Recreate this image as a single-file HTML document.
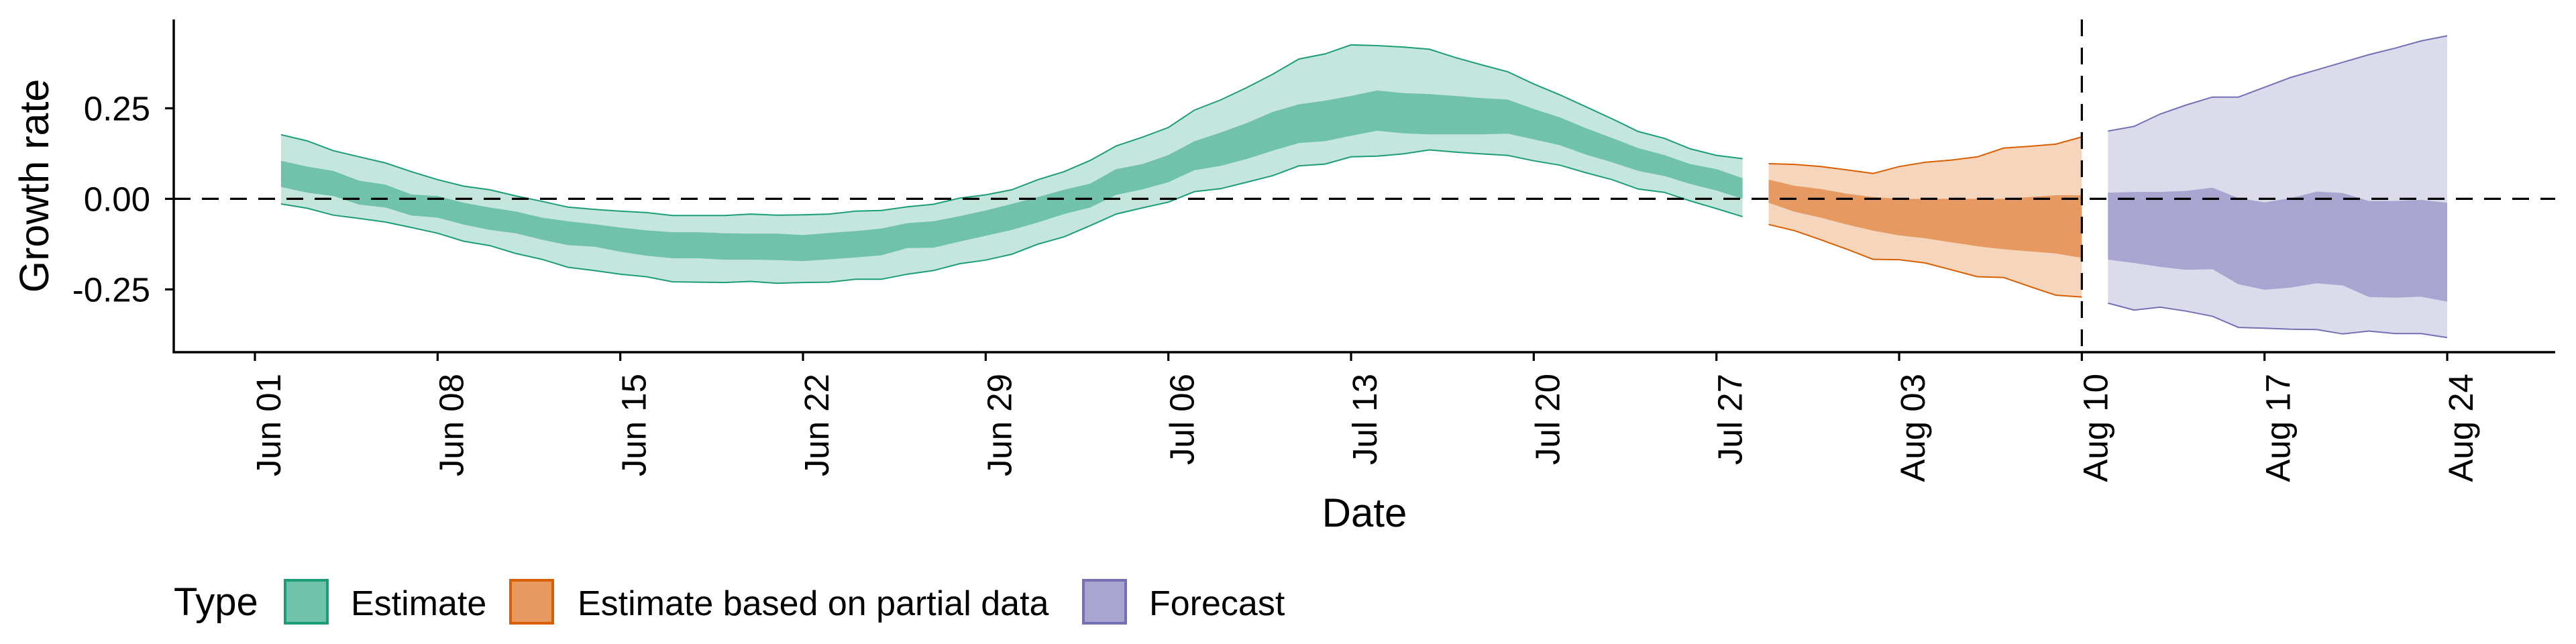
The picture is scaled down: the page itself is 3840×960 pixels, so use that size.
<!DOCTYPE html>
<html><head><meta charset="utf-8"><style>
html,body{margin:0;padding:0;background:#fff;}
svg{display:block;font-family:"Liberation Sans",Arial,sans-serif;}
</style></head><body>
<svg id="chart" width="3840" height="960" viewBox="0 0 3840 960" xmlns="http://www.w3.org/2000/svg">
<g id="plot"></g>
<text x="0" y="0" transform="translate(72,277) rotate(-90)" text-anchor="middle" font-size="61">Growth rate</text>
<text x="2034" y="785" text-anchor="middle" font-size="60">Date</text>
<g>
<text x="259" y="917" font-size="58">Type</text>
<g>
<rect x="425" y="865" width="63" height="64" fill="#70c2aa" stroke="#1b9e77" stroke-width="4"/>
<text x="523" y="917" font-size="52">Estimate</text></g>
<g>
<rect x="761" y="865" width="63" height="64" fill="#e69a62" stroke="#d95f02" stroke-width="4"/>
<text x="861" y="917" font-size="52">Estimate based on partial data</text></g>
<g>
<rect x="1615" y="865" width="63" height="64" fill="#a8a5d0" stroke="#7570b3" stroke-width="4"/>
<text x="1713" y="917" font-size="52">Forecast</text></g>
</g>
</svg>
<script>
// day index from Jun 01
const estStart = 1, partStart = 58, fcStart = 71;
const estOuterUpper = [0.177,0.160,0.133,0.116,0.099,0.075,0.053,0.035,0.025,0.008,-0.007,-0.023,-0.029,-0.034,-0.038,-0.046,-0.046,-0.046,-0.042,-0.045,-0.044,-0.042,-0.034,
 -0.032,-0.022,-0.015,0.002,0.011,0.025,0.053,0.075,0.106,0.146,0.170,0.197,0.245,0.273,0.307,0.344,0.386,0.400,0.425,0.423,0.419,0.413,0.390,0.370,0.351,0.317,0.287,0.254,0.221,0.186,0.167,0.138,0.120,0.111];
const estInnerUpper = [0.105,0.089,0.077,0.050,0.039,0.012,0.008,-0.011,-0.024,-0.035,-0.052,-0.062,-0.070,-0.079,-0.087,-0.092,-0.092,-0.095,-0.096,-0.096,-0.100,-0.094,-0.089,
 -0.082,-0.067,-0.062,-0.048,-0.032,-0.014,0.005,0.025,0.042,0.082,0.096,0.121,0.159,0.183,0.209,0.240,0.261,0.271,0.284,0.299,0.292,0.289,0.284,0.278,0.274,0.248,0.225,0.195,0.168,0.140,0.121,0.096,0.082,0.057];
const estInnerLower = [0.033,0.017,0.008,-0.016,-0.024,-0.046,-0.052,-0.071,-0.086,-0.095,-0.113,-0.128,-0.132,-0.146,-0.157,-0.164,-0.164,-0.168,-0.168,-0.169,-0.172,-0.167,-0.162,
 -0.156,-0.136,-0.135,-0.118,-0.102,-0.086,-0.065,-0.042,-0.024,0.011,0.026,0.046,0.079,0.091,0.110,0.133,0.154,0.159,0.174,0.188,0.181,0.178,0.178,0.178,0.180,0.164,0.148,0.122,0.101,0.077,0.063,0.041,0.023,0.000];
const estOuterLower = [-0.014,-0.026,-0.045,-0.054,-0.064,-0.079,-0.095,-0.117,-0.129,-0.151,-0.167,-0.189,-0.198,-0.208,-0.215,-0.229,-0.230,-0.231,-0.228,-0.233,-0.231,-0.230,-0.222,
 -0.222,-0.208,-0.198,-0.179,-0.169,-0.153,-0.125,-0.105,-0.074,-0.042,-0.025,-0.009,0.020,0.028,0.046,0.064,0.091,0.096,0.116,0.118,0.124,0.135,0.129,0.124,0.120,0.105,0.093,0.072,0.053,0.027,0.018,-0.006,-0.027,-0.049];
const partOuterUpper = [0.097,0.095,0.089,0.080,0.070,0.089,0.101,0.107,0.116,0.140,0.145,0.151,0.171];
const partInnerUpper = [0.053,0.036,0.027,0.014,0.005,0,0,0,0,0,0.005,0.010,0.010];
const partInnerLower = [-0.011,-0.036,-0.052,-0.071,-0.088,-0.101,-0.109,-0.120,-0.131,-0.139,-0.145,-0.151,-0.163];
const partOuterLower = [-0.071,-0.088,-0.113,-0.139,-0.167,-0.168,-0.177,-0.196,-0.215,-0.217,-0.242,-0.266,-0.271];
const fcOuterUpper = [0.187,0.200,0.234,0.259,0.281,0.281,0.308,0.335,0.356,0.377,0.398,0.416,0.436,0.450];
const fcInnerUpper = [0.017,0.019,0.019,0.022,0.031,0.002,-0.010,0.002,0.020,0.016,-0.006,-0.006,-0.003,-0.011];
const fcInnerLower = [-0.168,-0.177,-0.188,-0.196,-0.194,-0.236,-0.251,-0.245,-0.233,-0.239,-0.271,-0.273,-0.270,-0.284];
const fcOuterLower = [-0.288,-0.307,-0.299,-0.310,-0.324,-0.355,-0.357,-0.360,-0.361,-0.373,-0.365,-0.372,-0.372,-0.383];
const xTickLabels = ["Jun 01","Jun 08","Jun 15","Jun 22","Jun 29","Jul 06","Jul 13","Jul 20","Jul 27","Aug 03","Aug 10","Aug 17","Aug 24"];
const xTickDays = [0,7,14,21,28,35,42,49,56,63,70,77,84];
const yTickValues = [0.25,0,-0.25];
const yTickLabels = ["0.25","0.00","-0.25"];
const forecastDateDay = 70;

const NS = "http://www.w3.org/2000/svg";
const plot = document.getElementById('plot');
const X0 = 259, X1 = 3809, Y0 = 29, Y1 = 525;
function xs(d){ return 380 + d * 38.905; }
function ys(v){ return 296.4 - v * 540; }
function mk(tag, attrs){ const e = document.createElementNS(NS, tag); for (const k in attrs) e.setAttribute(k, attrs[k]); plot.appendChild(e); return e; }
function pts(start, arr){ return arr.map((v,i)=>xs(start+i).toFixed(1)+','+ys(v).toFixed(1)); }

function ribbon(name, start, ou, iu, il, ol, light, dark, line){
  let e = mk('polygon', {points: pts(start, ou).concat(pts(start, ol).reverse()).join(' '), fill: light});
  
  
  e = mk('polygon', {points: pts(start, iu).concat(pts(start, il).reverse()).join(' '), fill: dark});
  
  
  e = mk('polyline', {points: pts(start, ou).join(' '), fill: 'none', stroke: line, 'stroke-width': 2});
  
  
  e = mk('polyline', {points: pts(start, ol).join(' '), fill: 'none', stroke: line, 'stroke-width': 2});
  
  
}
ribbon('estimate', estStart, estOuterUpper, estInnerUpper, estInnerLower, estOuterLower, '#c5e6dc', '#70c2aa', '#1b9e77');
ribbon('partial', partStart, partOuterUpper, partInnerUpper, partInnerLower, partOuterLower, '#f5d6bd', '#e69a62', '#d95f02');
ribbon('forecast', fcStart, fcOuterUpper, fcInnerUpper, fcInnerLower, fcOuterLower, '#dcdbeb', '#a8a5d0', '#7570b3');

let z = mk('line', {x1: X0, x2: X1, y1: ys(0), y2: ys(0), stroke: '#000', 'stroke-width': 3.2, 'stroke-dasharray': '25 17'});


let v = mk('line', {x1: xs(forecastDateDay), x2: xs(forecastDateDay), y1: Y0, y2: Y1, stroke: '#000', 'stroke-width': 3.2, 'stroke-dasharray': '25 17'});



let ax = mk('polyline', {points: `${X0},${Y0} ${X0},${Y1} ${X1},${Y1}`, fill: 'none', stroke: '#000', 'stroke-width': 3.5});



yTickValues.forEach((val, i) => {
  const t = mk('line', {x1: X0 - 13, x2: X0, y1: ys(val), y2: ys(val), stroke: '#000', 'stroke-width': 3.2});
  
  
  const l = mk('text', {x: 224, y: ys(val) + 18, 'text-anchor': 'end', 'font-size': 51});
  l.textContent = yTickLabels[i];
  
  
});
xTickDays.forEach((d, i) => {
  const x = xs(d);
  const t = mk('line', {x1: x, x2: x, y1: Y1, y2: Y1 + 13, stroke: '#000', 'stroke-width': 3.2});
  
  
  const l = mk('text', {x: 0, y: 0, transform: `translate(${(x + 38).toFixed(1)},557) rotate(-90)`, 'text-anchor': 'end', 'font-size': 51});
  l.textContent = xTickLabels[i];
  
  
});
</script>
</body></html>
